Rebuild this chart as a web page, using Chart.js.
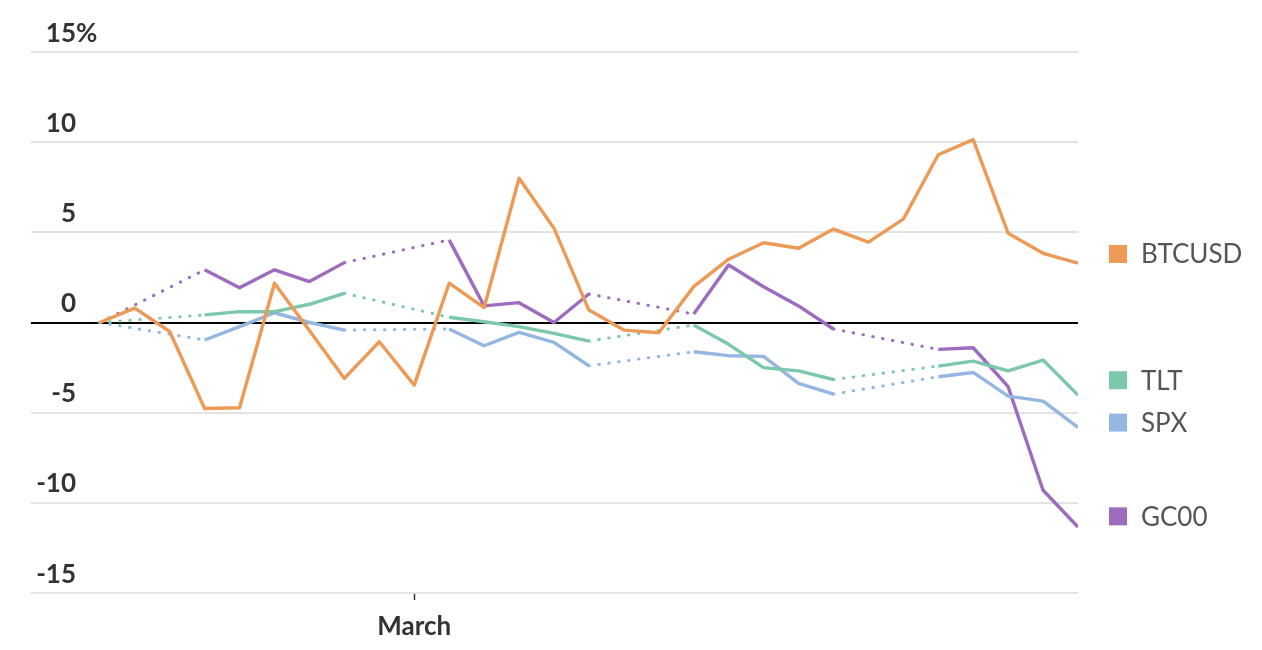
<!DOCTYPE html>
<html>
<head>
<meta charset="utf-8">
<script src="https://cdn.jsdelivr.net/npm/chart.js@4.4.1/dist/chart.umd.min.js"></script>
<style>
  html, body { margin: 0; padding: 0; background: #fff; }
  #wrap { width: 1262px; height: 650px; position: relative; }
</style>
</head>
<body>
<div id="wrap"><canvas id="chart"></canvas></div>
<script>
// ── Data (% change since Feb 20; weekends are gaps for the exchange-traded series) ──
const dates = [
  'Feb 20','Feb 21','Feb 22','Feb 23','Feb 24','Feb 25','Feb 26','Feb 27','Feb 28',
  'Mar 1','Mar 2','Mar 3','Mar 4','Mar 5','Mar 6','Mar 7','Mar 8','Mar 9','Mar 10',
  'Mar 11','Mar 12','Mar 13','Mar 14','Mar 15','Mar 16','Mar 17','Mar 18','Mar 19','Mar 20'
];
const btcusd = [0, 0.8, -0.5, -4.77, -4.73, 2.18, -0.45, -3.1, -1.07, -3.47, 2.18, 0.82, 8.0, 5.23, 0.69,
  -0.42, -0.57, 1.99, 3.51, 4.42, 4.12, 5.18, 4.46, 5.73, 9.3, 10.14, 4.95, 3.84, 3.29];
const tlt = [0, null, null, 0.42, 0.6, 0.6, 1.01, 1.62, null, null, 0.29, 0.04, -0.23, -0.6, -1.03,
  null, null, -0.14, -1.21, -2.5, -2.68, -3.16, null, null, -2.42, -2.14, -2.68, -2.08, -4.03];
const spx = [0, null, null, -0.97, -0.23, 0.54, 0.0, -0.42, null, null, -0.36, -1.29, -0.55, -1.1, -2.4,
  null, null, -1.62, -1.84, -1.88, -3.38, -3.97, null, null, -3.01, -2.77, -4.08, -4.36, -5.82];
const gc00 = [0, null, null, 2.92, 1.93, 2.92, 2.27, 3.32, null, null, 4.58, 0.92, 1.1, 0.0, 1.58,
  null, null, 0.47, 3.19, 1.98, 0.92, -0.36, null, null, -1.49, -1.4, -3.56, -9.3, -11.34];
const seriesNames = ['BTCUSD', 'TLT', 'SPX', 'GC00'];
const yTickValues = [-15, -10, -5, 0, 5, 10, 15];
const monthTicks = { 'Mar 1': 'March' };

// ── Style ──
const COLORS = ['#ED9A56', '#7BC8AA', '#93B7E1', '#9D6CBE'];
const INK = '#333333';
const FONT = 'Lato';
const FS = 26;

const toPoints = arr => arr.map((v, i) => ({ x: i, y: v }));
const gap = (ctx, val) => (ctx.p0.skip || ctx.p1.skip) ? val : undefined;

const datasets = [btcusd, tlt, spx, gc00].map((arr, i) => ({
  label: seriesNames[i],
  data: toPoints(arr),
  borderColor: COLORS[i],
  borderWidth: 3.4,
  borderJoinStyle: 'round',
  pointRadius: 0,
  tension: 0,
  spanGaps: true,
  segment: {
    borderDash: ctx => gap(ctx, [0.5, 9.5]),
    borderCapStyle: ctx => gap(ctx, 'round'),
    borderWidth: ctx => gap(ctx, 3),
  },
}));

// y tick labels sit just above their gridline, numbers right-aligned, "%" only on the top one
const yLabels = {
  id: 'yLabels',
  afterDraw(chart) {
    const { ctx, scales: { y } } = chart;
    ctx.save();
    ctx.font = `bold ${FS}px ${FONT}`;
    ctx.fillStyle = INK;
    ctx.textBaseline = 'alphabetic';
    const xr = chart.chartArea.left + 45;
    const top = Math.max(...yTickValues);
    for (const t of y.ticks) {
      const py = y.getPixelForValue(t.value) - 10.5;
      ctx.textAlign = 'right';
      ctx.fillText(String(t.value), xr, py);
      if (t.value === top) { ctx.textAlign = 'left'; ctx.fillText('%', xr, py); }
    }
    ctx.restore();
  }
};

// legend on the right, nudged apart so labels don't collide
const sideLegend = {
  id: 'sideLegend',
  afterDraw(chart, args, opts) {
    const { ctx, scales: { y }, chartArea } = chart;
    ctx.save();
    ctx.font = `${FS}px ${FONT}`;
    ctx.textBaseline = 'middle';
    ctx.textAlign = 'left';
    chart.data.datasets.forEach((ds, i) => {
      const cy = y.getPixelForValue(opts.at[i]);
      const x0 = chartArea.right + 31;
      ctx.fillStyle = ds.borderColor;
      ctx.fillRect(x0, cy - 9, 18, 18);
      ctx.fillStyle = '#555555';
      ctx.fillText(ds.label, x0 + 32, cy + 1);
    });
    ctx.restore();
  }
};

new Chart(document.getElementById('chart'), {
  type: 'line',
  data: { datasets },
  options: {
    responsive: true,
    maintainAspectRatio: false,
    animation: false,
    layout: { padding: { left: 31, right: 184, top: 52, bottom: 0 } },
    plugins: {
      legend: { display: false },
      tooltip: { enabled: false },
      sideLegend: { at: [3.8, -3.2, -5.55, -10.75] },
    },
    scales: {
      x: {
        type: 'linear',
        min: -1.97,
        max: dates.length - 1,
        afterBuildTicks: s => {
          s.ticks = Object.keys(monthTicks).map(d => ({ value: dates.indexOf(d) }));
        },
        afterFit: s => { s.height = 57; },
        grid: { drawOnChartArea: false, drawTicks: true, tickLength: 7, tickColor: INK, tickWidth: 1.5 },
        border: { display: false },
        ticks: {
          autoSkip: false,
          maxRotation: 0,
          padding: 11,
          color: INK,
          font: { family: FONT, size: FS, weight: 'bold' },
          callback: v => monthTicks[dates[v]] || '',
        },
      },
      y: {
        min: -15,
        max: 15,
        afterBuildTicks: s => { s.ticks = yTickValues.map(v => ({ value: v })); },
        afterFit: s => { s.width = 0; },
        grid: {
          drawTicks: false,
          lineWidth: 2,
          color: c => c.tick && c.tick.value === 0 ? '#000000' : '#E3E3E3',
        },
        border: { display: false },
        ticks: { display: false },
      },
    },
  },
  plugins: [yLabels, sideLegend],
});
</script>
</body>
</html>
